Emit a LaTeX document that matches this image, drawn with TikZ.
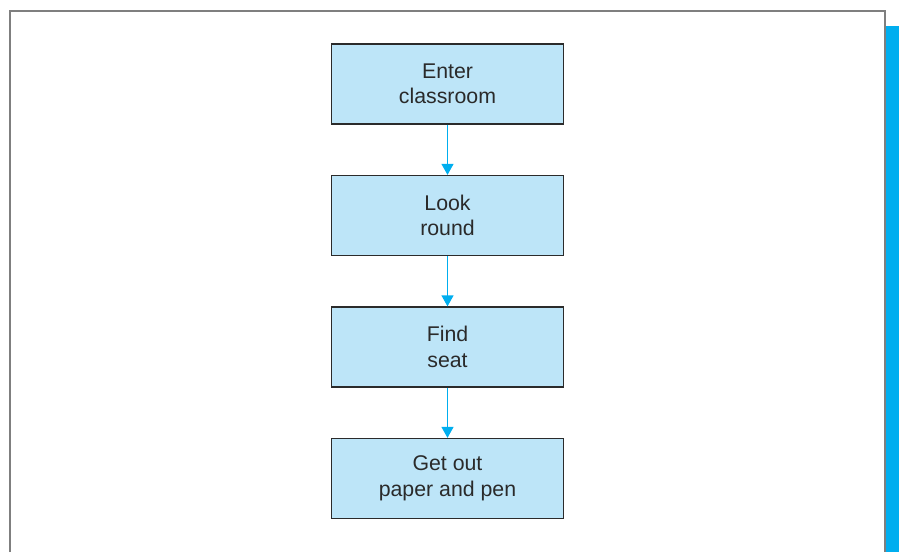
\documentclass[tikz,border=0pt]{standalone}
\usepackage{fontspec}
\setmainfont{Liberation Sans}
\usetikzlibrary{arrows.meta}
\definecolor{boxfill}{HTML}{BDE5F8}
\definecolor{boxline}{HTML}{2B2B2B}
\definecolor{arrowcol}{HTML}{00AEEF}
\definecolor{framecol}{HTML}{7F7F7F}
\definecolor{txt}{HTML}{2A2A2A}
\tikzset{
  stepbox/.style={draw=boxline, line width=1.3pt, fill=boxfill, minimum width=232pt, minimum height=80pt,
    inner sep=0pt, align=center, text=txt, font=\fontsize{21.3}{25.5}\selectfont},
  flowarrow/.style={draw=arrowcol, line width=1.3pt, -{Triangle[width=12pt,length=11pt]}}
}
\begin{document}
\begin{tikzpicture}[x=1pt,y=-1pt]
\useasboundingbox (0,0) rectangle (899,552);
\fill[arrowcol] (886,26) rectangle (899,552);
\draw[framecol, line width=2pt] (10,552) -- (10,11) -- (884.5,11) -- (884.5,552);
\node[stepbox] (a) at (447.5,84) {Enter\\classroom};
\node[stepbox] (b) at (447.5,215.5) {Look\\round};
\node[stepbox] (c) at (447.5,347) {Find\\seat};
\node[stepbox] (d) at (447.5,478.5) {Get out\\paper and pen};
\draw[flowarrow] (a) -- (b);
\draw[flowarrow] (b) -- (c);
\draw[flowarrow] (c) -- (d);
\end{tikzpicture}
\end{document}
